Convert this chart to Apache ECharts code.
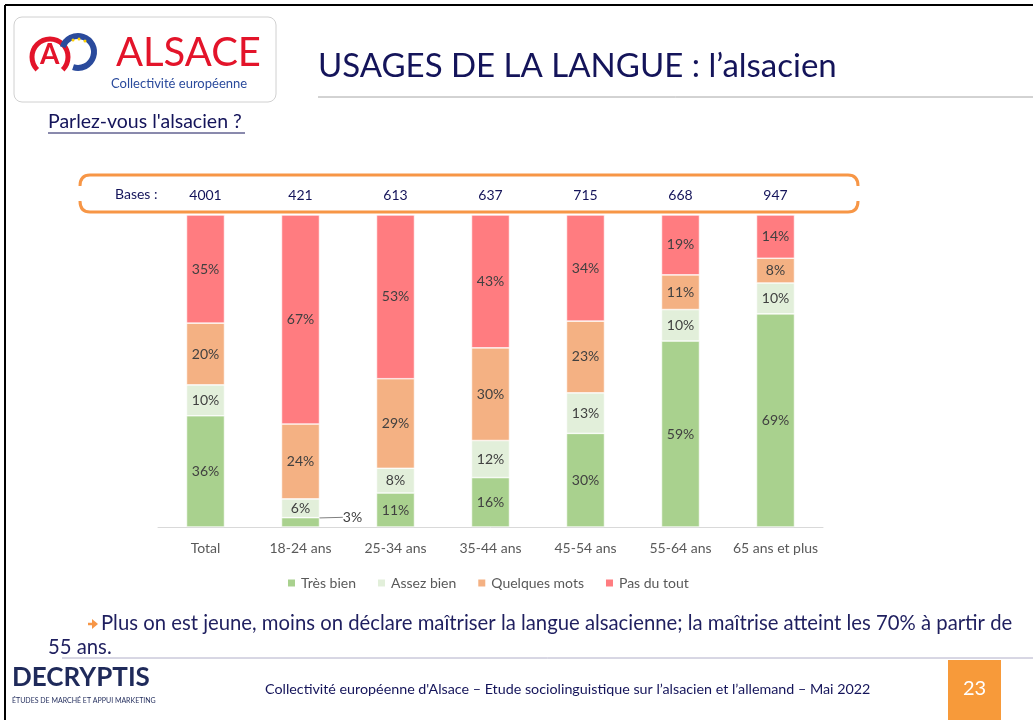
<!DOCTYPE html>
<html>
<head>
<meta charset="utf-8">
<script src="https://cdn.jsdelivr.net/npm/echarts@6/dist/echarts.min.js"></script>
<style>
  html,body{margin:0;padding:0;background:#fff;}
  #chart{width:1033px;height:720px;}
</style>
</head>
<body>
<div id="chart"></div>
<script>
// categories and sample sizes
const categories = ['Total','18-24 ans','25-34 ans','35-44 ans','45-54 ans','55-64 ans','65 ans et plus'];
const bases = ['4001','421','613','637','715','668','947'];
// percentages
const tresBien     = [36, 3, 11, 16, 30, 59, 69];
const assezBien    = [10, 6,  8, 12, 13, 10, 10];
const quelquesMots = [20,24, 29, 30, 23, 11,  8];
const pasDuTout    = [35,67, 53, 43, 34, 19, 14];

const seriesDefs = [
  {name:'Très bien', data:tresBien, color:'#a9d18e'},
  {name:'Assez bien', data:assezBien, color:'#e2efda'},
  {name:'Quelques mots', data:quelquesMots, color:'#f4b183'},
  {name:'Pas du tout', data:pasDuTout, color:'#ff7c80'}
];
// 100% stacked like the excel chart
const totals = categories.map((c,i)=>seriesDefs.reduce((s,d)=>s+d.data[i],0));

const FONT = 'Lato';
const NAVY = '#14145a';
const ORANGE = '#f79646';
const myChart = echarts.init(document.getElementById('chart'));

const series = seriesDefs.map((d,si)=>{
  const s = {
    name:d.name,
    type:'bar',
    stack:'all',
    barWidth:38,
    itemStyle:{color:d.color, borderColor:'#fff', borderWidth:0.6},
    label:{show:true, position:'inside', color:'#404040', fontFamily:FONT, fontSize:14,
           formatter:p=>d.data[p.dataIndex]+'%'},
    data:d.data.map((v,i)=>{
      const item={value:v/totals[i]*100};
      if(si===0 && i===1){
        item.labelLine={show:true, lineStyle:{color:'#7f7f7f', width:1}};
      }
      return item;
    })
  };
  if(si===0){
    s.labelLayout = p => p.dataIndex===1 ? {dx:52, dy:-5} : {};
  }
  return s;
});

const txt = (x,y,text,fill,font) => ({type:'text', x:x, y:y, style:{text:text, fill:fill, font:font}});
const ln = (x1,y1,x2,y2,stroke,w) => ({type:'line', shape:{x1,y1,x2,y2}, style:{stroke:stroke, lineWidth:w}});
const curve = (x1,y1,cx,cy,x2,y2) => ({type:'bezierCurve', shape:{x1,y1,x2,y2,cpx1:cx,cpy1:cy}, style:{stroke:ORANGE, lineWidth:3, fill:null}});

myChart.setOption({
  animation:false,
  textStyle:{fontFamily:FONT},
  grid:{left:158, right:210, top:215, bottom:193},
  legend:{
    left:281, top:571, itemWidth:9, itemHeight:9, itemGap:20, icon:'rect',
    textStyle:{color:'#595959', fontSize:14, fontFamily:FONT}
  },
  xAxis:[{
    type:'category', data:categories,
    axisLine:{lineStyle:{color:'#d9d9d9'}}, axisTick:{show:false},
    axisLabel:{color:'#595959', fontSize:14, margin:14, interval:0, fontFamily:FONT}
  },{
    type:'category', data:bases, position:'top',
    axisLine:{show:false}, axisTick:{show:false},
    axisLabel:{color:NAVY, fontSize:14, margin:13, interval:0, fontFamily:FONT}
  }],
  yAxis:{type:'value', min:0, max:100, show:false},
  series:series,
  graphic:[
    // slide frame
    ln(5,5,1033,5,'#000',2),
    ln(5,5,5,720,'#000',2),
    // logo
    {type:'rect', shape:{x:14, y:17, width:262, height:85, r:8}, style:{fill:'#fff', stroke:'#d0d0d0', lineWidth:1}},
    {type:'arc', shape:{cx:50, cy:57, r:18, startAngle:Math.PI*0.75, endAngle:Math.PI*2.25}, style:{stroke:'#e3142a', lineWidth:5, fill:null}},
    txt(40,41,'A','#e3142a','bold 28px Lato'),
    {type:'arc', shape:{cx:78, cy:52, r:16, startAngle:-Math.PI*0.9, endAngle:Math.PI*0.6}, style:{stroke:'#2a4a9c', lineWidth:6, fill:null}},
    {type:'circle', shape:{cx:73, cy:40, r:1.5}, style:{fill:'#ffd200'}},
    {type:'circle', shape:{cx:79, cy:39, r:1.5}, style:{fill:'#ffd200'}},
    {type:'circle', shape:{cx:85, cy:41, r:1.5}, style:{fill:'#ffd200'}},
    txt(116,33,'ALSACE','#e3142a','40px Lato'),
    txt(111,77,'Collectivité européenne','#2a4a9c','13px Lato'),
    // title
    txt(318,50,'USAGES DE LA LANGUE : l’alsacien',NAVY,'33px Lato'),
    ln(318,97,1033,97,'#a6a6a6',1),
    // question
    txt(48,112,'Parlez-vous l\'alsacien ?',NAVY,'19.5px Lato'),
    ln(48,133,245,133,NAVY,1),
    // bases bracket
    curve(80,186,80,175,90,175),
    ln(90,175,848,175,ORANGE,3),
    curve(848,175,858,175,858,186),
    curve(80,201,80,212,90,212),
    ln(90,212,848,212,ORANGE,3),
    curve(848,212,858,212,858,201),
    txt(115,187,'Bases :',NAVY,'14px Lato'),
    // comment arrow
    ln(88,624,94,624,ORANGE,2.5),
    {type:'polygon', shape:{points:[[92,619],[98,624],[92,629]]}, style:{fill:ORANGE}},
    txt(101,613,'Plus on est jeune, moins on déclare maîtriser la langue alsacienne; la maîtrise atteint les 70% à partir de','#1f1f5f','20.3px Lato'),
    txt(48,637,'55 ans.','#1f1f5f','20.3px Lato'),
    ln(62,658,1033,658,'#b0aec8',1),
    // footer
    txt(12,665,'DECRYPTIS','#1f2a5a','bold 26px Lato'),
    txt(12,697,'ÉTUDES DE MARCHÉ ET APPUI MARKETING','#1f2a5a','7px Lato'),
    txt(265,682,'Collectivité européenne d\'Alsace – Etude sociolinguistique sur l’alsacien et l’allemand – Mai 2022',NAVY,'14.3px Lato'),
    {type:'rect', shape:{x:948, y:660, width:53, height:60}, style:{fill:'#f79a3a'}},
    txt(963,679,'23','#fff','20px Lato')
  ]
});
window.addEventListener('resize',()=>myChart.resize());
</script>
</body>
</html>
